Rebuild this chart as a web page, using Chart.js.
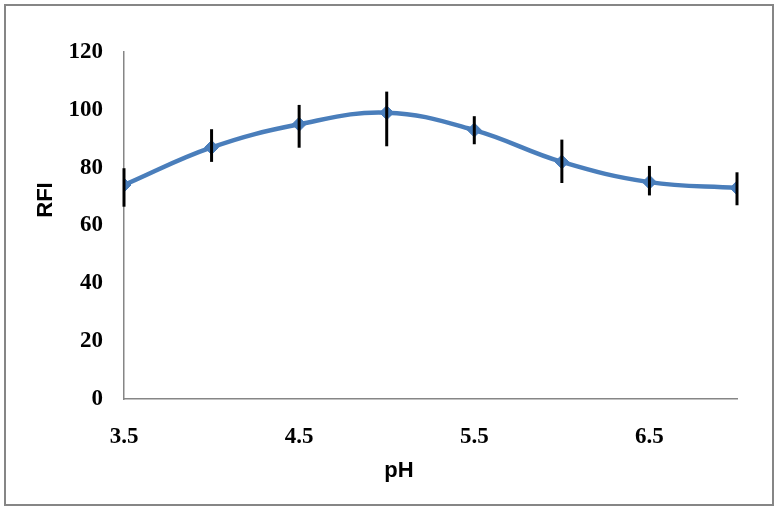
<!DOCTYPE html>
<html>
<head>
<meta charset="utf-8">
<script src="https://cdn.jsdelivr.net/npm/chart.js@4/dist/chart.umd.min.js"></script>
<style>
  html, body { margin: 0; padding: 0; background: #ffffff; }
  #wrap { position: relative; width: 780px; height: 511px; }
  #frame { position: absolute; left: 4px; top: 4px; width: 766px; height: 498px;
           border: 2px solid #868686; pointer-events: none; }
  canvas { position: absolute; left: 0; top: 0; }
</style>
</head>
<body>
<div id="wrap">
  <canvas id="c" width="780" height="511"></canvas>
  <div id="frame"></div>
</div>
<script>
const phValues = [3.5, 4, 4.5, 5, 5.5, 6, 6.5, 7];
const rfiValues = [74, 87, 95, 99, 93, 82, 75, 73];
const errPlus = [5.8, 6.3, 6.7, 7.3, 4.8, 7.7, 5.6, 5.4];
const errMinus = [7.5, 5.0, 8.1, 11.6, 4.9, 7.3, 4.6, 6.0];
const xTickLabels = [3.5, 4.5, 5.5, 6.5];
const yTickValues = [0, 20, 40, 60, 80, 100, 120];
const xAxisTitle = 'pH';
const yAxisTitle = 'RFI';

const points = phValues.map((x, i) => ({ x: x, y: rfiValues[i] }));

const errorBarPlugin = {
  id: 'errorBars',
  afterDatasetsDraw(chart) {
    const ctx = chart.ctx;
    const xs = chart.scales.x, ys = chart.scales.y;
    ctx.save();
    ctx.strokeStyle = '#000000';
    ctx.lineWidth = 3;
    ctx.lineCap = 'butt';
    phValues.forEach((x, i) => {
      const px = xs.getPixelForValue(x);
      const top = ys.getPixelForValue(rfiValues[i] + errPlus[i]);
      const bot = ys.getPixelForValue(rfiValues[i] - errMinus[i]);
      ctx.beginPath();
      ctx.moveTo(px, top);
      ctx.lineTo(px, bot);
      ctx.stroke();
    });
    ctx.restore();
  }
};

const axisTitlePlugin = {
  id: 'axisTitles',
  afterDraw(chart) {
    const ctx = chart.ctx;
    ctx.save();
    ctx.fillStyle = '#000000';
    ctx.font = 'bold 22px "Liberation Sans", Arial, sans-serif';
    ctx.textAlign = 'center';
    ctx.textBaseline = 'alphabetic';
    ctx.fillText(xAxisTitle, 399, 477);
    ctx.translate(52, 200);
    ctx.rotate(-Math.PI / 2);
    ctx.fillText(yAxisTitle, 0, 0);
    ctx.restore();
  }
};

new Chart(document.getElementById('c'), {
  type: 'scatter',
  data: {
    datasets: [{
      data: points,
      showLine: true,
      borderColor: '#4A7EBB',
      backgroundColor: '#4A7EBB',
      borderWidth: 4.5,
      tension: 0.4,
      pointStyle: 'rectRot',
      pointRadius: 7,
      pointBorderWidth: 1,
      pointBackgroundColor: '#4A7EBB',
      pointBorderColor: '#4A7EBB'
    }]
  },
  options: {
    responsive: false,
    animation: false,
    layout: { padding: { top: 52, right: 43, bottom: 0, left: 0 } },
    plugins: { legend: { display: false }, tooltip: { enabled: false } },
    scales: {
      x: {
        type: 'linear',
        min: 3.5, max: 7,
        afterBuildTicks(scale) { scale.ticks = xTickLabels.map(v => ({ value: v })); },
        afterFit(scale) { scale.height = 112; },
        grid: { display: false, drawTicks: false },
        border: { display: true, color: '#868686', width: 1.5 },
        ticks: {
          padding: 24,
          color: '#000000',
          font: { family: '"Liberation Serif", "Times New Roman", serif', size: 23, weight: 'bold' },
          callback: v => String(v)
        }
      },
      y: {
        min: 0, max: 120,
        afterBuildTicks(scale) { scale.ticks = yTickValues.map(v => ({ value: v })); },
        afterFit(scale) { scale.width = 124; },
        grid: { display: false, drawTicks: false },
        border: { display: true, color: '#868686', width: 1.5 },
        ticks: {
          padding: 21,
          color: '#000000',
          font: { family: '"Liberation Serif", "Times New Roman", serif', size: 23, weight: 'bold' }
        }
      }
    }
  },
  plugins: [errorBarPlugin, axisTitlePlugin]
});
</script>
</body>
</html>
